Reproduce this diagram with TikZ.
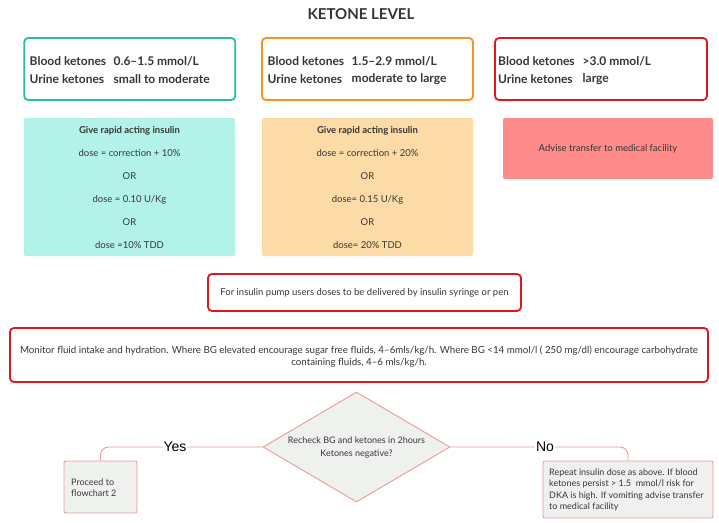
\documentclass[tikz,border=0pt]{standalone}
\usepackage{fontspec}
\setmainfont{Lato}
\newfontfamily\yesfont{Liberation Sans}
\usetikzlibrary{shapes.geometric}
\definecolor{tealb}{HTML}{22BFA0}
\definecolor{orangeb}{HTML}{F7931E}
\definecolor{redb}{HTML}{E3141B}
\definecolor{tealf}{HTML}{B3F2E8}
\definecolor{orangef}{HTML}{FDDBA6}
\definecolor{redf}{HTML}{FF8A8A}
\definecolor{grayf}{HTML}{EFF1EF}
\definecolor{pinkl}{HTML}{EE9A9A}
\definecolor{txt}{HTML}{363636}
\tikzset{
  outbox/.style={draw, line width=1.8pt, rounded corners=4pt, inner sep=0pt, fill=white},
  fillbox/.style={rounded corners=2pt, inner sep=0pt, draw=none},
  toptxt/.style={anchor=west, inner sep=0pt, text=txt, font=\fontsize{12}{14}\selectfont\bfseries},
  smalltxt/.style={inner sep=0pt, text=txt, font=\fontsize{9.5}{11}\selectfont},
  smallbold/.style={inner sep=0pt, text=txt, font=\fontsize{9.5}{11}\selectfont\bfseries},
  tinytxt/.style={inner sep=0pt, text=txt, anchor=west, align=left, font=\fontsize{9}{11.3}\selectfont},
  lightbox/.style={draw=pinkl, fill=grayf, line width=0.9pt, rounded corners=2pt, inner sep=0pt},
  conn/.style={draw=pinkl, line width=0.9pt, rounded corners=8pt},
  lbl/.style={fill=white, inner sep=1pt, text=black, font=\yesfont\fontsize{14}{16}\selectfont},
}
\begin{document}
\begin{tikzpicture}[x=1pt, y=-1pt]
\useasboundingbox (0,0) rectangle (719,522);
\fill[white] (0,0) rectangle (719,522);

\node[inner sep=0pt, text=txt, font=\fontsize{15}{17}\selectfont\bfseries] (title) at (361,14) {KETONE LEVEL};

% top outlined boxes
\node[outbox, draw=tealb, minimum width=211pt, minimum height=62pt] (b1) at (129.75,69) {};
\node[outbox, draw=orangeb, minimum width=211pt, minimum height=62pt] (b2) at (367.5,69) {};
\node[outbox, draw=redb, minimum width=212pt, minimum height=62pt] (b3) at (601,69) {};

\node[toptxt] (b1a) at (29.5,61) {Blood ketones};
\node[toptxt] (b1b) at (29.5,79.5) {Urine ketones};
\node[toptxt] (b1c) at (113.5,61) {0.6–1.5 mmol/L};
\node[toptxt] (b1d) at (113.5,79.5) {small to moderate};

\node[toptxt] (b2a) at (267.5,61) {Blood ketones};
\node[toptxt] (b2b) at (267.5,79.5) {Urine ketones};
\node[toptxt] (b2c) at (351.5,61) {1.5–2.9 mmol/L};
\node[toptxt] (b2d) at (351.5,79.5) {moderate to large};

\node[toptxt] (b3a) at (498,61) {Blood ketones};
\node[toptxt] (b3b) at (498,79.5) {Urine ketones};
\node[toptxt] (b3c) at (582.5,61) {>3.0 mmol/L};
\node[toptxt] (b3d) at (582.5,79.5) {large};

% filled boxes
\node[fillbox, fill=tealf, minimum width=211pt, minimum height=138pt] (f1) at (129.5,187) {};
\node[fillbox, fill=orangef, minimum width=211pt, minimum height=138pt] (f2) at (367.5,187) {};
\node[fillbox, fill=redf, minimum width=210pt, minimum height=61pt] (f3) at (608,148.5) {};

\node[smallbold] (f1a) at (129.5,130.5) {Give rapid acting insulin};
\node[smalltxt] (f1b) at (129.5,153.5) {dose = correction + 10\%};
\node[smalltxt] (f1c) at (129.5,176.5) {OR};
\node[smalltxt] (f1d) at (129.5,199.5) {dose = 0.10 U/Kg};
\node[smalltxt] (f1e) at (129.5,222.5) {OR};
\node[smalltxt] (f1f) at (129.5,245) {dose =10\% TDD};

\node[smallbold] (f2a) at (367.5,130.5) {Give rapid acting insulin};
\node[smalltxt] (f2b) at (367.5,153.5) {dose = correction + 20\%};
\node[smalltxt] (f2c) at (367.5,176.5) {OR};
\node[smalltxt] (f2d) at (367.5,199.5) {dose= 0.15 U/Kg};
\node[smalltxt] (f2e) at (367.5,222.5) {OR};
\node[smalltxt] (f2f) at (367.5,245) {dose= 20\% TDD};

\node[smalltxt] (f3a) at (608,149) {Advise transfer to medical facility};

% pump box
\node[outbox, draw=redb, minimum width=313pt, minimum height=37pt] (pump) at (364.5,292.5) {};
\node[smalltxt] (pumpt) at (364.5,293) {For insulin pump users doses to be delivered by insulin syringe or pen};

% monitor box
\node[outbox, draw=redb, minimum width=698pt, minimum height=54pt] (mon) at (359,355) {};
\node[smalltxt, align=center, font=\fontsize{9.75}{11.5}\selectfont] (mont) at (359,356.5) {Monitor fluid intake and hydration. Where BG elevated encourage sugar free fluids, 4–6mls/kg/h. Where BG <14 mmol/l ( 250 mg/dl) encourage carbohydrate\\containing fluids, 4–6 mls/kg/h.};

% decision
\node[diamond, aspect=1.7, draw=pinkl, fill=grayf, line width=0.9pt, inner sep=0pt,
      minimum width=187pt, minimum height=110pt, text=txt, align=center,
      font=\fontsize{9}{13}\selectfont] (dec) at (356.5,447) {Recheck BG and ketones in 2hours\\Ketones negative?};

\node[lightbox, minimum width=73pt, minimum height=52pt] (yesbox) at (100.5,487) {};
\node[tinytxt] (yest) at (71,488) {Proceed to\\flowchart 2};

\node[lightbox, minimum width=170pt, minimum height=57pt] (nobox) at (628,489.5) {};
\node[tinytxt] (not) at (549,490) {Repeat insulin dose as above. If blood\\ketones persist > 1.5~ mmol/l risk for\\DKA is high. If vomiting advise transfer\\to medical facility};

\draw[conn] (dec.west) -| (yesbox.north);
\draw[conn] (dec.east) -| (nobox.north);
\node[lbl] (yeslbl) at (175,447) {Yes};
\node[lbl] (nolbl) at (545,447) {No};
\end{tikzpicture}
\end{document}
